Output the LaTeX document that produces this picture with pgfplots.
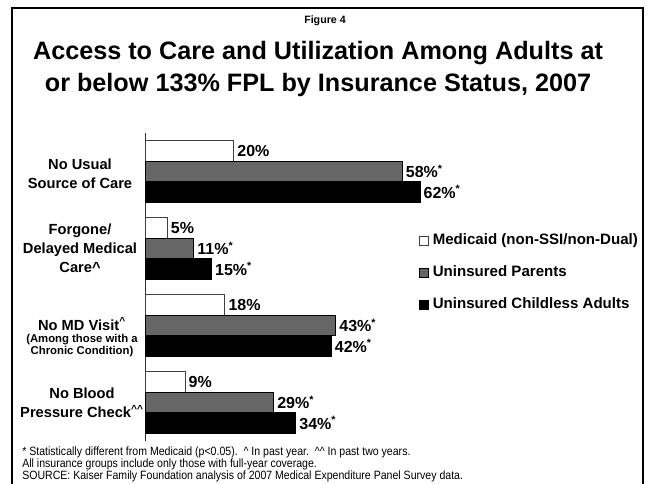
\documentclass[border=0pt]{standalone}
\usepackage{pgfplots}
\pgfplotsset{compat=1.18}
\usepackage{fontspec}
\setmainfont{Liberation Sans}
\newfontfamily\narrowfont[FakeStretch=0.88]{Liberation Sans}
\definecolor{bargray}{RGB}{102,102,102}
\begin{document}
\begin{tikzpicture}
\useasboundingbox (0,0) rectangle (487.5pt,-363pt);
\draw[line width=1.3pt] (12*0.75pt,-8*0.75pt) rectangle (643*0.75pt,-530*0.75pt);
\node[anchor=base, inner sep=0pt, font=\bfseries\fontsize{8}{9.6}\selectfont] at (325*0.75pt,-23.5*0.75pt) {Figure 4};
\node[anchor=base, inner sep=0pt, font=\bfseries\fontsize{18.9}{23}\selectfont] at (318*0.75pt,-60*0.75pt) {Access to Care and Utilization Among Adults at};
\node[anchor=base, inner sep=0pt, font=\bfseries\fontsize{18.9}{23}\selectfont] at (318*0.75pt,-91.7*0.75pt) {or below 133\% FPL by Insurance Status, 2007};

\begin{axis}[
  at={(145*0.75pt,-440.9*0.75pt)}, anchor=south west,
  scale only axis, width=332.6pt, height=231pt,
  xmin=0, xmax=100, ymin=-0.5, ymax=3.5,
  axis x line=none, axis y line*=left,
  y axis line style={black!80, line width=0.6pt},
  xtick=\empty, ytick=\empty,
  xbar, bar width=15.4pt,
  clip=false,
  point meta=explicit symbolic,
  nodes near coords,
  nodes near coords style={anchor=west, inner sep=2.5pt, text=black, font=\bfseries\fontsize{12}{13}\selectfont},
  legend style={at={(axis description cs:0.618,0.545)}, anchor=west, draw=none, fill=none, inner sep=0pt,
    row sep=13.3pt, font=\bfseries\fontsize{11.3}{13}\selectfont,
    nodes={inner sep=0pt, text height=8.2pt, text depth=2.5pt},
    /tikz/every odd column/.append style={column sep=2.8pt}},
  legend cell align=left,
  legend image code/.code={\draw[#1, line width=0.5pt] (0pt,-3.4pt) rectangle (6.8pt,3.4pt);},
]
\addplot[fill=white, draw=black!75, line width=0.6pt, bar shift=15.4pt] coordinates {
  (20,3) [20\%]
  (5,2)  [5\%]
  (18,1) [18\%]
  (9,0)  [9\%]
};
\addlegendentry{Medicaid (non-SSI/non-Dual)}
\addplot[fill=bargray, draw=black, line width=0.5pt, bar shift=0pt] coordinates {
  (58,3) [58\%\textsuperscript{*}]
  (11,2) [11\%\textsuperscript{*}]
  (43,1) [43\%\textsuperscript{*}]
  (29,0) [29\%\textsuperscript{*}]
};
\addlegendentry{Uninsured Parents}
\addplot[fill=black, draw=black, line width=0.5pt, bar shift=-15.4pt] coordinates {
  (62,3) [62\%\textsuperscript{*}]
  (15,2) [15\%\textsuperscript{*}]
  (42,1) [42\%\textsuperscript{*}]
  (34,0) [34\%\textsuperscript{*}]
};
\addlegendentry{Uninsured Childless Adults}
\end{axis}

\node[align=center, inner sep=0pt, font=\bfseries\fontsize{11}{14.25}\selectfont] at (80*0.75pt,-173.5*0.75pt) {No Usual\\Source of Care};
\node[align=center, inner sep=0pt, font=\bfseries\fontsize{11}{14.25}\selectfont] at (80*0.75pt,-248.5*0.75pt) {Forgone/\\Delayed Medical\\Care\textasciicircum};
\node[align=center, inner sep=0pt, font=\bfseries\fontsize{11}{14.25}\selectfont] at (82*0.75pt,-324*0.75pt) {No MD Visit\textsuperscript{\textasciicircum}};
\node[align=center, inner sep=0pt, font=\bfseries\fontsize{8.5}{9}\selectfont] at (82*0.75pt,-346*0.75pt) {(Among those with a\\Chronic Condition)};
\node[align=center, inner sep=0pt, font=\bfseries\fontsize{11}{14.25}\selectfont] at (82*0.75pt,-403*0.75pt) {No Blood\\Pressure Check\textsuperscript{\textasciicircum\textasciicircum}};

\node[anchor=base west, inner sep=0pt, font=\narrowfont\fontsize{9}{10}\selectfont] at (22*0.75pt,-456*0.75pt) {* Statistically different from Medicaid (p<0.05).\ \ \textasciicircum{} In past year.\ \ \textasciicircum\textasciicircum{} In past two years.};
\node[anchor=base west, inner sep=0pt, font=\narrowfont\fontsize{9}{10}\selectfont] at (22*0.75pt,-468*0.75pt) {All insurance groups include only those with full-year coverage.};
\node[anchor=base west, inner sep=0pt, font=\narrowfont\fontsize{9}{10}\selectfont] at (22*0.75pt,-479.5*0.75pt) {SOURCE: Kaiser Family Foundation analysis of 2007 Medical Expenditure Panel Survey data.};
\end{tikzpicture}
\end{document}
